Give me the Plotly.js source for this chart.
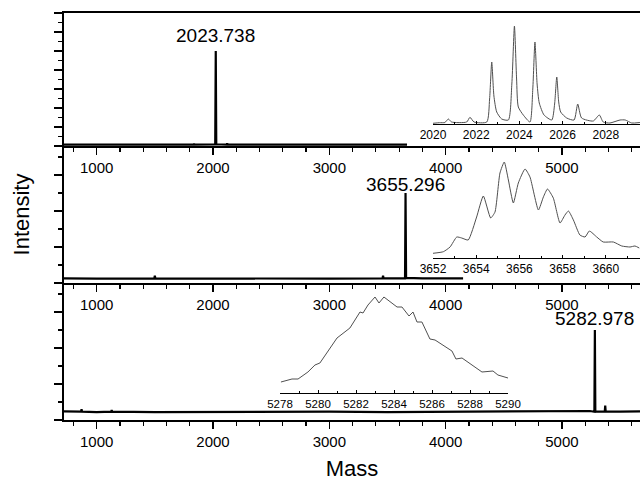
<!DOCTYPE html>
<html>
<head>
<meta charset="utf-8">
<script src="https://cdn.plot.ly/plotly-3.0.1.min.js"></script>
<style>html,body{margin:0;padding:0;background:#fff;}#chart{width:640px;height:481px;}</style>
</head>
<body>
<div id="chart"></div>
<script>
// ---- main spectra (Mass vs. Intensity, arbitrary units) ----
const topMass = [719, 1000, 1500, 1833, 1837, 1841, 2000, 2019, 2023.7, 2028, 2118, 2122, 2126, 2500, 3000, 3500, 3668];
const topInt  = [0.07, 0.06, 0.07, 0.07, 0.12, 0.07, 0.07, 0.08, 5.0, 0.09, 0.07, 0.14, 0.07, 0.07, 0.06, 0.07, 0.07];

const midMass = [719, 1000, 1496, 1500, 1504, 2000, 2500, 3000, 3458, 3462, 3466, 3651, 3655.3, 3660, 3800, 4000, 4150];
const midInt  = [0.13, 0.12, 0.13, 0.2, 0.13, 0.12, 0.13, 0.12, 0.13, 0.2, 0.13, 0.13, 2.5, 0.14, 0.13, 0.12, 0.13];

const botMass = [719, 866, 870, 874, 1000, 1125, 1129, 1133, 1500, 2000, 2500, 3000, 3500, 4000, 4500, 5000, 5240, 5279, 5283, 5287, 5368, 5372, 5376, 5500, 5671];
const botInt  = [0.24, 0.23, 0.3, 0.23, 0.22, 0.23, 0.28, 0.23, 0.22, 0.23, 0.22, 0.23, 0.22, 0.23, 0.22, 0.23, 0.25, 0.23, 2.5, 0.24, 0.23, 0.4, 0.23, 0.23, 0.24];

// ---- zoomed isotope envelopes (insets) ----
const ins1Mass = [2020.0, 2020.3, 2020.55, 2020.71, 2020.86, 2021.56, 2021.71, 2021.9, 2022.49, 2022.62, 2022.72, 2022.82, 2022.95, 2023.18, 2023.49, 2023.65, 2023.77, 2023.87, 2023.95, 2024.18, 2024.49, 2024.62, 2024.72, 2024.82, 2024.92, 2025.14, 2025.5, 2025.63, 2025.73, 2025.82, 2025.91, 2026.19, 2026.53, 2026.7, 2026.88, 2027.42, 2027.7, 2027.88, 2028.19, 2028.66, 2028.9, 2029.2, 2029.58];
const ins1Int  = [0.7, 1.3, 1.5, 5, 2, 2, 6.7, 2, 2, 25, 62, 28, 12, 5, 4, 40, 98, 45, 17, 9, 2, 35, 82, 40, 21, 9, 4, 20, 47, 22, 12, 6, 4, 20, 6, 3, 9, 2, 1, 4, 4, 1, 1.5];

const ins2Mass = [3652.0, 3652.48, 3652.79, 3653.1, 3653.33, 3653.63, 3654.02, 3654.33, 3654.67, 3654.87, 3655.1, 3655.3, 3655.49, 3655.72, 3655.95, 3656.26, 3656.49, 3656.88, 3657.11, 3657.3, 3657.57, 3657.88, 3658.11, 3658.27, 3658.5, 3658.8, 3659.04, 3659.24, 3659.58, 3659.88, 3660.35, 3660.74, 3661.12, 3661.35, 3661.55];
const ins2Int  = [4.7, 6.3, 11, 21, 20, 18, 41, 62, 40, 46, 85, 96, 78, 55, 75, 89, 81, 48, 61, 69, 60, 35, 43, 47, 38, 23, 21, 27, 21, 16, 16, 12, 11, 12, 10];

const ins3Mass = [5278.05, 5278.63, 5278.95, 5279.47, 5279.84, 5280.1, 5281.0, 5281.68, 5282.21, 5282.37, 5282.63, 5283.0, 5283.21, 5283.47, 5284.16, 5284.42, 5284.79, 5285.0, 5285.21, 5285.47, 5285.89, 5286.16, 5287.05, 5287.26, 5287.58, 5288.63, 5289.21, 5289.47, 5290.0];
const ins3Int  = [11, 14, 14, 21, 28, 30, 55, 65, 81, 80, 88, 96, 90, 96, 86, 86, 77, 81, 71, 71, 54, 53, 42, 34, 35, 21, 22, 18, 15];

// ---- peak labels ----
const peakLabels = ["2023.738", "3655.296", "5282.978"];
const peakMass = [2023.7, 3655.3, 5283.0];
const peakInt = [5.0, 2.5, 2.5];

const FONT = "Liberation Sans, Arial, Helvetica, sans-serif";

const traces = [
  {x: botMass, y: botInt, xaxis: 'x', yaxis: 'y', mode: 'lines', line: {color: '#000', width: 2.2}, hoverinfo: 'skip'},
  {x: midMass, y: midInt, xaxis: 'x2', yaxis: 'y2', mode: 'lines', line: {color: '#000', width: 2.2}, hoverinfo: 'skip'},
  {x: topMass, y: topInt, xaxis: 'x3', yaxis: 'y3', mode: 'lines', line: {color: '#000', width: 2.2}, hoverinfo: 'skip'},
  {x: ins1Mass, y: ins1Int, xaxis: 'x4', yaxis: 'y4', mode: 'lines', line: {color: '#505050', width: 1, shape: 'spline', smoothing: 0.6}, hoverinfo: 'skip'},
  {x: ins2Mass, y: ins2Int, xaxis: 'x5', yaxis: 'y5', mode: 'lines', line: {color: '#505050', width: 1, shape: 'spline', smoothing: 0.5}, hoverinfo: 'skip'},
  {x: ins3Mass, y: ins3Int, xaxis: 'x6', yaxis: 'y6', mode: 'lines', line: {color: '#505050', width: 1}, hoverinfo: 'skip'}
];

const H = 407; // plot height in px (13..420)
function frac(px) { return (420 - px) / H; }

function mainX(anchor, extra) {
  return Object.assign({
    anchor: anchor, domain: [0, 1], range: [719, 5671], showgrid: false, zeroline: false,
    showline: true, linecolor: '#000', linewidth: 2, ticks: 'outside', ticklen: 7, tickwidth: 1.5, tickcolor: '#000',
    dtick: 1000, tick0: 0, tickfont: {family: FONT, size: 15, color: '#000'},
    minor: {dtick: 200, ticklen: 4, tickwidth: 1.2, tickcolor: '#000', ticks: 'outside', showgrid: false}
  }, extra || {});
}
function mainY(anchor, dom, rng, extra) {
  return Object.assign({
    anchor: anchor, domain: dom, range: rng, showgrid: false, zeroline: false, showticklabels: false,
    showline: true, linecolor: '#000', linewidth: 2, ticks: 'outside', ticklen: 8, tickwidth: 1.5, tickcolor: '#000',
    dtick: 1, tick0: 0,
    minor: {dtick: 0.5, ticklen: 4, tickwidth: 1.2, tickcolor: '#000', ticks: 'outside', showgrid: false}
  }, extra || {});
}
function insX(anchor, dom, rng, fs) {
  return {
    anchor: anchor, domain: dom, range: rng, showgrid: false, zeroline: false,
    showline: true, linecolor: '#000', linewidth: 1, ticks: 'inside', ticklen: 3, tickwidth: 1, tickcolor: '#000',
    dtick: 2, tick0: 0, tickfont: {family: FONT, size: fs, color: '#000'}, ticklabelstandoff: 0,
    minor: {dtick: 1, ticklen: 2, tickwidth: 1, tickcolor: '#000', ticks: 'inside', showgrid: false}
  };
}
function insY(anchor, dom) {
  return {anchor: anchor, domain: dom, range: [0, 100], visible: false, showgrid: false, zeroline: false};
}

const annotations = peakLabels.map((t, i) => ({
  text: t, x: peakMass[i], y: peakInt[i], xref: ['x3', 'x2', 'x'][i], yref: ['y3', 'y2', 'y'][i],
  showarrow: false, xanchor: 'center', yanchor: 'bottom', yshift: [3, -4, -1][i],
  font: {family: FONT, size: 19, color: '#000'}
}));

const layout = {
  width: 640, height: 481,
  margin: {l: 64, r: 0, t: 13, b: 61, pad: 0},
  paper_bgcolor: '#fff', plot_bgcolor: 'rgba(0,0,0,0)',
  showlegend: false,
  font: {family: FONT, color: '#000'},
  xaxis: mainX('y', {title: {text: 'Mass', font: {family: FONT, size: 22, color: '#000'}, standoff: 16}}),
  xaxis2: mainX('y2'),
  xaxis3: mainX('y3', {mirror: true}),
  yaxis: mainY('x', [0, frac(283)], [0, 137 / 36]),
  yaxis2: mainY('x2', [frac(283), frac(146)], [0, 137 / 36], {title: {text: 'Intensity', font: {family: FONT, size: 22, color: '#000'}, standoff: 18}}),
  yaxis3: mainY('x3', [frac(146), 1], [0, 7]),
  xaxis4: insX('y4', [(433 - 64) / 576, 1], [2020, 2020 + 207 / 21.6], 12),
  yaxis4: insY('x4', [frac(124), frac(24)]),
  xaxis5: insX('y5', [(433 - 64) / 576, 1], [3652, 3652 + 207 / 21.6], 12),
  yaxis5: insY('x5', [frac(258), frac(158)]),
  xaxis6: insX('y6', [(280 - 64) / 576, (508 - 64) / 576], [5278, 5290], 11.5),
  yaxis6: insY('x6', [frac(393), frac(293)]),
  annotations: annotations
};

Plotly.newPlot('chart', traces, layout, {staticPlot: true, displayModeBar: false});
</script>
</body>
</html>
